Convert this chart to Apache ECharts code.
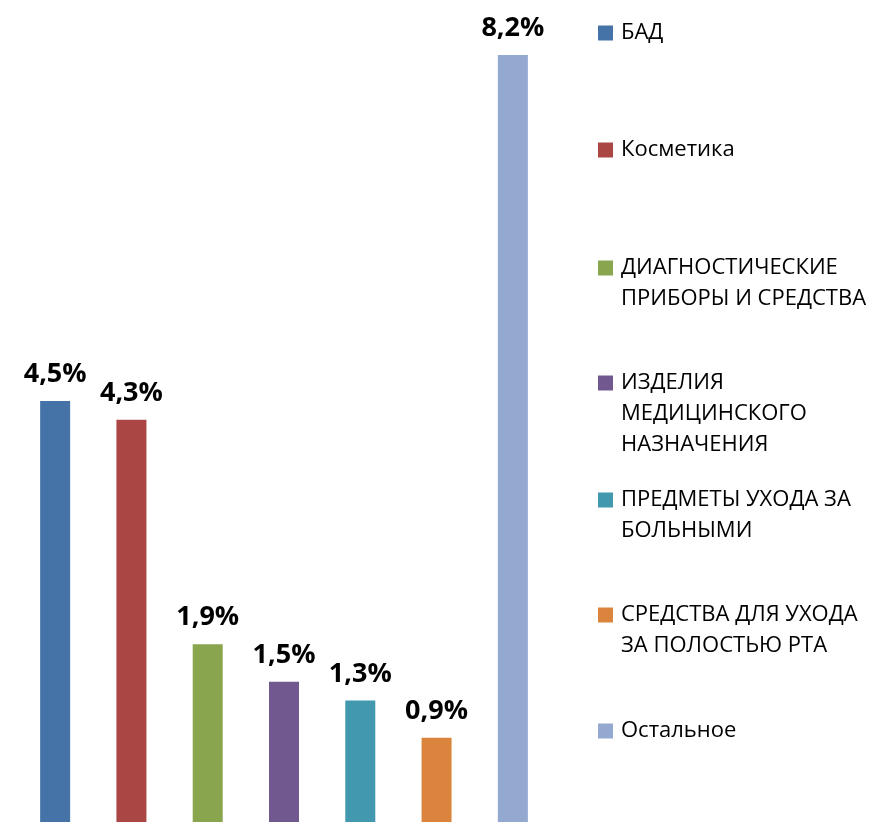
<!DOCTYPE html>
<html>
<head>
<meta charset="utf-8">
<title>Доли категорий</title>
<script src="https://cdn.jsdelivr.net/npm/echarts@6/dist/echarts.min.js"></script>
<style>
  html, body { margin: 0; padding: 0; background: #fff; }
  #chart { width: 883px; height: 822px; }
</style>
</head>
<body>
<div id="chart"></div>
<script>
  // данные
  var categories = ['БАД', 'Косметика', 'ДИАГНОСТИЧЕСКИЕ ПРИБОРЫ И СРЕДСТВА',
    'ИЗДЕЛИЯ МЕДИЦИНСКОГО НАЗНАЧЕНИЯ', 'ПРЕДМЕТЫ УХОДА ЗА БОЛЬНЫМИ',
    'СРЕДСТВА ДЛЯ УХОДА ЗА ПОЛОСТЬЮ РТА', 'Остальное'];
  var values = [4.5, 4.3, 1.9, 1.5, 1.3, 0.9, 8.2];
  // как подписи разбиты по строкам в легенде
  var legendLines = [
    ['БАД'],
    ['Косметика'],
    ['ДИАГНОСТИЧЕСКИЕ', 'ПРИБОРЫ И СРЕДСТВА'],
    ['ИЗДЕЛИЯ', 'МЕДИЦИНСКОГО', 'НАЗНАЧЕНИЯ'],
    ['ПРЕДМЕТЫ УХОДА ЗА', 'БОЛЬНЫМИ'],
    ['СРЕДСТВА ДЛЯ УХОДА', 'ЗА ПОЛОСТЬЮ РТА'],
    ['Остальное']
  ];
  var colors = ['#4572A7', '#AA4643', '#89A54E', '#71588F', '#4198AF', '#DB843D', '#93A9CF'];

  var chart = echarts.init(document.getElementById('chart'));
  var lineH = 31;
  var legendY = [33, 150, 268, 383, 500, 615, 731]; // центр первой строки

  var series = [];
  var legends = [];
  for (var i = 0; i < categories.length; i++) {
    var d = [];
    for (var j = 0; j < categories.length; j++) {
      d.push(j === i ? values[i] : null);
    }
    series.push({
      name: categories[i],
      type: 'bar',
      data: d,
      barWidth: 30,
      barGap: '-100%',
      itemStyle: { color: colors[i] },
      label: {
        show: true,
        position: 'top',
        distance: 13,
        color: '#000',
        fontFamily: 'Open Sans',
        fontWeight: 'bold',
        fontSize: 27,
        lineHeight: 27,
        formatter: function (p) {
          return String(p.value).replace('.', ',') + '%';
        }
      }
    });

    var n = legendLines[i].length;
    legends.push({
      data: [categories[i]],
      left: 598,
      top: legendY[i] - (2 * n - 1) * lineH / 2,
      padding: 0,
      icon: 'rect',
      itemWidth: 15,
      itemHeight: 15,
      selectedMode: false,
      textStyle: {
        fontFamily: 'Open Sans',
        fontSize: 22,
        lineHeight: lineH,
        color: '#000',
        padding: [0, 0, 0, 3]
      },
      formatter: (function (lines) {
        // пустые строки сверху, чтобы квадрат стоял у первой строки
        var pad = [];
        for (var k = 1; k < lines.length; k++) pad.push('');
        return function () {
          return pad.concat(lines).join('\n');
        };
      })(legendLines[i])
    });
  }

  chart.setOption({
    animation: false,
    legend: legends,
    grid: { left: 17, right: 332, top: 27, bottom: 0, containLabel: false },
    xAxis: {
      type: 'category',
      data: categories,
      show: false
    },
    yAxis: {
      type: 'value',
      min: 0,
      max: 8.5,
      show: false
    },
    series: series
  });
</script>
</body>
</html>
